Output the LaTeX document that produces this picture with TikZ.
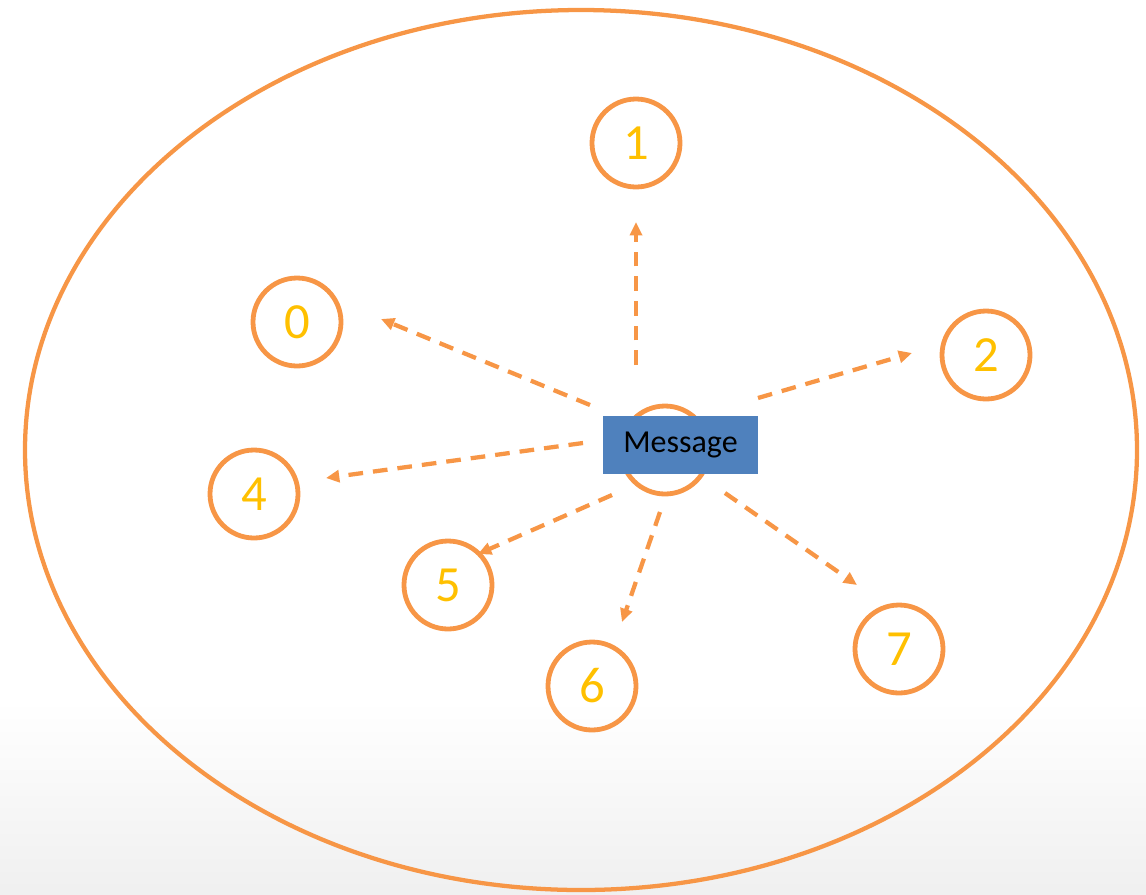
\documentclass[tikz,border=0pt]{standalone}
\usepackage{fontspec}
\setmainfont{Carlito}
\usetikzlibrary{arrows.meta}
\definecolor{orng}{HTML}{F79646}
\definecolor{gold}{HTML}{FFC000}
\definecolor{boxblue}{HTML}{4F81BD}
\tikzset{
  peer/.style={circle, draw=orng, line width=3.6pt, minimum size=66pt, inner sep=0pt, text=gold, font=\fontsize{38}{38}\selectfont},
  msgarrow/.style={draw=orng, line width=3.2pt, dash pattern=on 11pt off 7.5pt, -{Triangle[length=10pt,width=9pt]}},
  msgbox/.style={fill=boxblue, minimum width=116pt, minimum height=43pt, inner sep=0pt, font=\fontsize{24}{24}\selectfont, text=black}
}
\begin{document}
\begin{tikzpicture}[x=0.75pt,y=-0.75pt]
\useasboundingbox (0,0) rectangle (1146,894);
\shade[top color=white, bottom color=gray!12] (0,700) rectangle (1146,894);
\draw[orng, line width=3.2pt] (581,450) ellipse [x radius=556, y radius=440];
\node[peer] (n1) at (636,143) {1};
\node[peer] (n0) at (297,322) {0};
\node[peer] (n2) at (986,355) {2};
\node[peer] (n4) at (254,494) {4};
\node[peer] (n5) at (448,585) {5};
\node[peer] (n6) at (592,686) {6};
\node[peer] (n7) at (899,649) {7};
\node[peer] (c) at (665,450) {};
\node[msgbox] (msg) at (680.5,445) {\raisebox{-2pt}{Message}};
\coordinate (s1) at (636,365); \coordinate (e1) at (636,222);
\coordinate (s0) at (590,405); \coordinate (e0) at (381,319);
\coordinate (s2) at (758,398); \coordinate (e2) at (912,353);
\coordinate (s4) at (583,443); \coordinate (e4) at (326,478);
\coordinate (s5) at (612,495); \coordinate (e5) at (478,554);
\coordinate (s6) at (660,512); \coordinate (e6) at (622,622);
\coordinate (s7) at (725,493); \coordinate (e7) at (857,585);
\foreach \i in {1,0,2,4,5,6,7} {\draw[msgarrow] (s\i) -- (e\i);}
\end{tikzpicture}
\end{document}
